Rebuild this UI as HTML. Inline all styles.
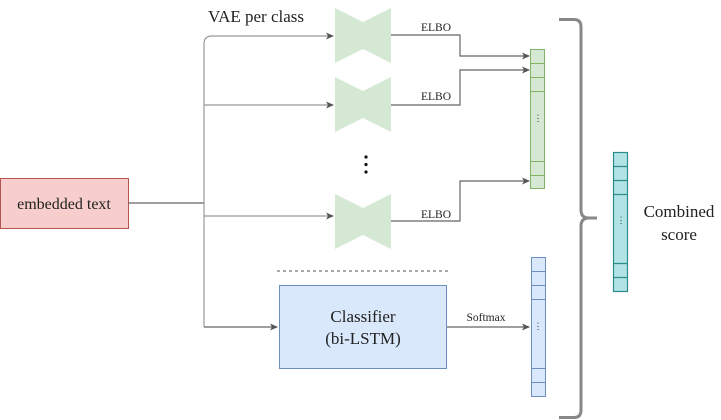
<!DOCTYPE html>
<html><head><style>body{margin:0;background:#fff}svg{display:block}</style></head><body>
<svg width="721" height="420" xmlns="http://www.w3.org/2000/svg" font-family="Liberation Serif, serif">
<defs><marker id="a" markerWidth="8" markerHeight="8" refX="7" refY="4" orient="auto" markerUnits="userSpaceOnUse"><path d="M0,0.5 L8,4 L0,7.5 L2,4z" fill="#555"/></marker></defs>
<rect x="0.5" y="178.5" width="128" height="50" fill="#f8cecc" stroke="#b85450"/>
<text x="64" y="209" font-size="16" text-anchor="middle" fill="#222">embedded text</text>
<g stroke="#666" fill="none" stroke-width="1.2">
<path d="M128,203 H204"/>
<path d="M204,327 V44 Q204,36 212,36 H333" marker-end="url(#a)" stroke="#999"/>
<path d="M204,105 H333" marker-end="url(#a)" stroke="#999"/>
<path d="M204,216 H333" marker-end="url(#a)" stroke="#999"/>
<path d="M204,327 H277" marker-end="url(#a)"/>
<path d="M391,35 H460 V56 H529" marker-end="url(#a)"/>
<path d="M391,105 H460 V70 H529" marker-end="url(#a)"/>
<path d="M391,221 H460 V181 H529" marker-end="url(#a)"/>
<path d="M446,327 H529" marker-end="url(#a)"/>
<path d="M277,271 H448" stroke-dasharray="3,3" stroke="#777"/>
</g>
<g fill="#d5e8d4">
<path d="M335,8 L363,22 L391,8 V63 L363,49 L335,63z"/>
<path d="M335,77 L363,91 L391,77 V132 L363,118 L335,132z"/>
<path d="M335,194 L363,208 L391,194 V249 L363,235 L335,249z"/>
</g>
<g fill="#111"><circle cx="366" cy="157" r="1.6"/><circle cx="366" cy="164.5" r="1.6"/><circle cx="366" cy="172" r="1.6"/></g>
<text x="208" y="22" font-size="17" fill="#222">VAE per class</text>
<g font-size="11.5" fill="#222" text-anchor="middle"><text x="436" y="31">ELBO</text><text x="436" y="100">ELBO</text><text x="436" y="218">ELBO</text><text x="486" y="321">Softmax</text></g>
<rect x="279.5" y="285.5" width="167" height="83" fill="#dae8fc" stroke="#6c8ebf"/>
<text x="363" y="322" font-size="17" text-anchor="middle" fill="#222">Classifier</text>
<text x="363" y="344" font-size="17" text-anchor="middle" fill="#222">(bi-LSTM)</text>
<g stroke="#82b366" fill="#d5e8d4"><rect x="530.5" y="49.5" width="14" height="139"/><path d="M530,63.5H545M530,77.5H545M530,91.5H545M530,161.5H545M530,175.5H545" fill="none"/></g>
<g stroke="#6c8ebf" fill="#dae8fc"><rect x="531.5" y="257.5" width="14" height="139"/><path d="M531,271.5H546M531,285.5H546M531,299.5H546M531,368.5H546M531,382.5H546" fill="none"/></g>
<g stroke="#2e8b8b" fill="#b0e3e6" stroke-width="1.2"><rect x="613.5" y="152.5" width="14" height="139"/><path d="M613,166.5H628M613,180.5H628M613,194.5H628M613,263.5H628M613,277.5H628" fill="none"/></g>
<g font-size="9" fill="#333" text-anchor="middle"><text x="538" y="121">⋮</text><text x="538" y="329">⋮</text><text x="621" y="223">⋮</text></g>
<path d="M559,19.5 H574 Q581,19.5 581,27 V210 Q581,218 589,218 H597 M589,218 Q581,218 581,226 V410 Q581,417.5 574,417.5 H559" fill="none" stroke="#888" stroke-width="3"/>
<text x="679" y="217" font-size="17" text-anchor="middle" fill="#222">Combined</text>
<text x="679" y="240" font-size="17" text-anchor="middle" fill="#222">score</text>
</svg>
</body></html>
